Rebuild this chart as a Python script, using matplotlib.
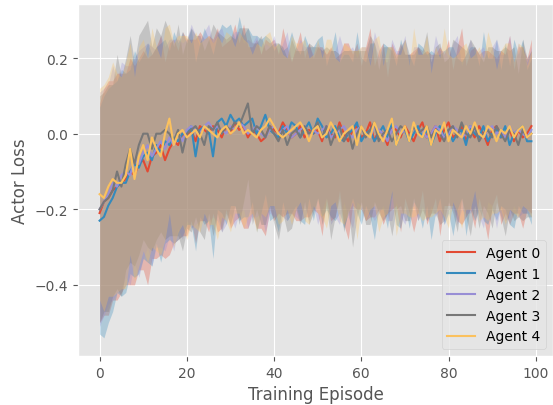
import numpy as np
import matplotlib
matplotlib.use("Agg")
import matplotlib.pyplot as plt

plt.style.use("ggplot")

episodes = np.arange(100)
labels = ["Agent 0", "Agent 1", "Agent 2", "Agent 3", "Agent 4"]

# mean actor loss per agent
mean0 = [-0.21,-0.18,-0.17,-0.15,-0.14,-0.13,-0.12,-0.10,-0.11,-0.08,-0.07,-0.10,-0.06,-0.05,-0.03,-0.07,-0.04,-0.02,-0.03,0.00,-0.01,0.01,-0.02,0.02,0.01,
         0.00,0.02,0.01,-0.01,0.02,0.00,0.03,0.01,0.02,-0.01,0.01,0.00,-0.02,-0.01,0.02,0.01,0.00,0.03,0.01,-0.01,0.00,0.02,-0.01,0.01,0.00,
         0.01,-0.02,0.02,0.00,-0.01,0.03,0.00,-0.02,0.01,0.02,-0.01,0.00,0.03,-0.02,0.01,0.00,-0.03,0.02,0.01,-0.01,0.02,0.00,-0.02,0.01,0.03,
         -0.01,0.00,0.02,-0.02,0.01,0.03,-0.01,0.00,0.02,-0.02,0.01,-0.01,0.02,0.00,-0.03,0.01,0.02,-0.01,0.00,0.01,-0.02,0.01,-0.01,0.00,0.02]
mean1 = [-0.23,-0.22,-0.19,-0.17,-0.14,-0.13,-0.13,-0.10,-0.08,-0.09,-0.06,-0.05,-0.07,-0.03,-0.05,-0.02,-0.03,-0.01,-0.02,0.00,0.00,0.02,-0.06,0.01,0.02,
         0.01,-0.06,0.03,0.04,0.02,0.05,0.03,0.04,0.02,0.03,0.04,0.00,0.02,0.05,0.01,0.00,-0.01,0.02,0.00,0.03,0.02,-0.01,0.01,0.03,0.00,
         0.04,0.02,-0.01,0.00,0.02,-0.01,-0.02,0.00,0.01,0.03,-0.02,0.00,0.01,-0.02,0.00,0.02,-0.01,0.03,-0.03,0.00,0.01,-0.02,0.00,0.02,-0.01,
         0.01,-0.03,0.00,0.02,-0.01,0.01,-0.02,0.00,0.01,-0.03,0.02,0.00,-0.01,0.02,-0.02,0.00,0.01,-0.01,0.02,-0.03,0.00,0.01,0.02,-0.02,-0.02]
mean2 = [-0.20,-0.18,-0.16,-0.13,-0.14,-0.11,-0.10,-0.11,-0.07,-0.08,-0.05,-0.03,-0.06,-0.04,-0.02,-0.04,-0.01,-0.03,0.00,-0.02,0.01,0.02,0.01,0.00,0.02,
         0.03,0.01,0.02,0.01,0.00,0.02,0.01,0.03,0.02,0.00,0.01,0.02,0.00,-0.01,0.01,0.02,0.00,0.01,0.02,-0.01,0.00,0.01,0.02,0.00,0.01,
         0.00,0.01,0.02,-0.01,0.00,0.01,0.02,0.00,-0.01,0.01,0.02,0.00,-0.01,0.02,0.01,0.00,-0.02,0.01,0.02,0.00,0.01,-0.01,0.02,0.00,0.01,
         -0.01,0.00,0.02,0.01,-0.01,0.00,0.02,0.01,-0.01,0.00,0.02,0.01,0.00,-0.01,0.01,0.02,0.00,0.01,-0.01,0.02,0.00,0.01,0.00,-0.01,0.01]
mean3 = [-0.20,-0.18,-0.17,-0.15,-0.10,-0.14,-0.08,-0.04,-0.08,-0.03,0.00,0.00,-0.04,0.00,0.00,0.01,0.00,-0.02,0.01,-0.05,0.00,0.01,0.02,0.00,-0.03,
         0.02,0.01,0.03,0.00,0.02,0.01,0.03,0.02,0.05,0.08,0.00,0.02,0.01,-0.01,0.02,0.00,-0.02,0.01,-0.03,0.00,0.01,-0.01,0.02,0.00,0.01,
         0.03,-0.01,0.02,-0.03,0.00,0.02,-0.02,0.01,-0.04,0.00,0.02,-0.01,0.01,0.03,-0.02,0.00,0.01,-0.02,0.00,0.02,0.01,-0.01,0.02,0.00,0.01,
         0.02,-0.01,0.01,0.00,-0.02,0.01,0.02,-0.01,0.03,0.00,-0.01,0.02,-0.02,0.00,0.01,-0.01,0.02,0.00,-0.02,0.01,0.00,-0.03,0.01,-0.01,0.00]
mean4 = [-0.16,-0.17,-0.14,-0.12,-0.13,-0.13,-0.11,-0.04,-0.12,-0.06,-0.03,-0.07,-0.01,-0.04,-0.06,0.00,0.04,-0.03,0.00,0.01,-0.01,0.00,0.01,-0.01,0.02,
         0.01,0.00,-0.01,0.01,0.02,0.00,0.01,0.03,0.00,0.01,0.00,-0.01,0.01,0.02,0.04,0.02,0.00,-0.01,0.00,0.01,0.02,0.03,0.01,-0.02,0.01,
         0.02,-0.01,0.00,0.03,0.01,-0.02,0.00,0.01,0.02,-0.03,0.02,0.00,-0.01,0.03,0.00,-0.02,0.01,0.04,-0.03,0.00,0.02,-0.02,0.03,0.00,-0.01,
         0.02,-0.03,0.01,0.00,0.03,-0.02,0.01,0.00,-0.01,0.02,0.00,0.03,0.00,-0.01,0.02,0.01,-0.02,0.01,0.00,0.02,-0.01,0.01,0.02,-0.01,0.00]

# spread (std) per agent
std0 = [0.29,0.30,0.31,0.29,0.30,0.29,0.28,0.30,0.29,0.28,0.29,0.30,0.27,0.28,0.29,0.26,0.28,0.27,0.25,0.27,0.26,0.24,0.27,0.25,0.24,
        0.26,0.23,0.27,0.24,0.22,0.25,0.26,0.23,0.27,0.24,0.22,0.25,0.23,0.26,0.22,0.24,0.21,0.25,0.22,0.20,0.23,0.25,0.21,0.23,0.20,
        0.22,0.25,0.19,0.23,0.21,0.18,0.24,0.26,0.20,0.22,0.19,0.23,0.25,0.20,0.21,0.24,0.18,0.22,0.20,0.25,0.19,0.21,0.24,0.22,0.18,
        0.23,0.21,0.19,0.25,0.20,0.22,0.18,0.23,0.26,0.20,0.21,0.24,0.19,0.22,0.25,0.20,0.18,0.23,0.21,0.25,0.19,0.22,0.24,0.20,0.23]
std1 = [0.30,0.32,0.31,0.30,0.28,0.30,0.29,0.27,0.30,0.28,0.27,0.29,0.28,0.26,0.29,0.27,0.25,0.28,0.26,0.27,0.24,0.26,0.25,0.23,0.26,
        0.24,0.27,0.23,0.25,0.26,0.24,0.22,0.27,0.24,0.25,0.22,0.26,0.23,0.21,0.24,0.22,0.25,0.20,0.23,0.24,0.21,0.22,0.25,0.20,0.23,
        0.21,0.24,0.19,0.22,0.25,0.20,0.23,0.21,0.18,0.24,0.22,0.19,0.23,0.26,0.20,0.22,0.24,0.19,0.21,0.25,0.20,0.23,0.18,0.22,0.24,
        0.20,0.25,0.21,0.19,0.23,0.22,0.25,0.20,0.18,0.24,0.21,0.23,0.19,0.25,0.22,0.20,0.24,0.18,0.22,0.21,0.25,0.20,0.23,0.19,0.22]
std2 = [0.31,0.30,0.29,0.31,0.28,0.30,0.28,0.29,0.27,0.30,0.28,0.27,0.29,0.26,0.28,0.27,0.26,0.28,0.25,0.26,0.24,0.27,0.25,0.23,0.25,
        0.26,0.23,0.25,0.27,0.24,0.23,0.26,0.24,0.22,0.25,0.23,0.24,0.21,0.25,0.22,0.24,0.21,0.23,0.25,0.20,0.22,0.24,0.21,0.23,0.20,
        0.24,0.21,0.19,0.23,0.22,0.25,0.20,0.22,0.24,0.19,0.21,0.23,0.20,0.25,0.22,0.19,0.21,0.24,0.20,0.22,0.25,0.19,0.21,0.23,0.20,
        0.22,0.19,0.24,0.21,0.23,0.20,0.22,0.25,0.19,0.21,0.23,0.20,0.22,0.24,0.19,0.21,0.25,0.20,0.22,0.24,0.19,0.23,0.21,0.20,0.22]
std3 = [0.30,0.29,0.30,0.28,0.31,0.29,0.28,0.30,0.27,0.29,0.28,0.30,0.27,0.28,0.26,0.29,0.27,0.25,0.28,0.26,0.25,0.27,0.24,0.26,0.25,
        0.23,0.28,0.24,0.26,0.23,0.25,0.22,0.26,0.23,0.20,0.24,0.22,0.25,0.23,0.21,0.24,0.26,0.22,0.23,0.25,0.21,0.23,0.20,0.24,0.22,
        0.20,0.23,0.21,0.25,0.22,0.19,0.24,0.21,0.26,0.22,0.20,0.23,0.25,0.21,0.19,0.23,0.22,0.25,0.20,0.21,0.24,0.22,0.19,0.23,0.21,
        0.25,0.20,0.22,0.24,0.21,0.19,0.23,0.25,0.20,0.22,0.26,0.21,0.23,0.19,0.22,0.24,0.20,0.22,0.25,0.21,0.23,0.19,0.24,0.21,0.22]
std4 = [0.28,0.30,0.29,0.31,0.29,0.28,0.30,0.28,0.27,0.29,0.28,0.27,0.29,0.27,0.26,0.28,0.25,0.27,0.26,0.25,0.27,0.24,0.26,0.25,0.23,
        0.25,0.24,0.27,0.23,0.25,0.26,0.22,0.24,0.25,0.23,0.21,0.25,0.22,0.24,0.23,0.21,0.24,0.22,0.20,0.25,0.22,0.21,0.24,0.22,0.20,
        0.23,0.21,0.25,0.22,0.19,0.21,0.24,0.22,0.20,0.25,0.21,0.23,0.19,0.22,0.26,0.20,0.22,0.19,0.24,0.21,0.23,0.20,0.25,0.21,0.22,
        0.24,0.19,0.22,0.20,0.25,0.23,0.19,0.21,0.24,0.22,0.20,0.18,0.23,0.21,0.25,0.22,0.19,0.21,0.24,0.22,0.20,0.23,0.21,0.19,0.22]

means = [mean0, mean1, mean2, mean3, mean4]
stds = [std0, std1, std2, std3, std4]

fig = plt.figure(figsize=(5.53, 4.06), dpi=100)
ax = fig.add_axes([78/553, 49/406, 475/553, 352/406])

for lab, m, s in zip(labels, means, stds):
    m = np.array(m)
    s = np.array(s)
    line, = ax.plot(episodes, m, label=lab, lw=1.5)
    ax.fill_between(episodes, m - s, m + s, color=line.get_color(), alpha=0.3, lw=0)

ax.set_ylim(-0.588, 0.343)
ax.set_xlabel("Training Episode")
ax.set_ylabel("Actor Loss")
ax.legend(loc="lower right")

fig.savefig("out.png", dpi=100)
